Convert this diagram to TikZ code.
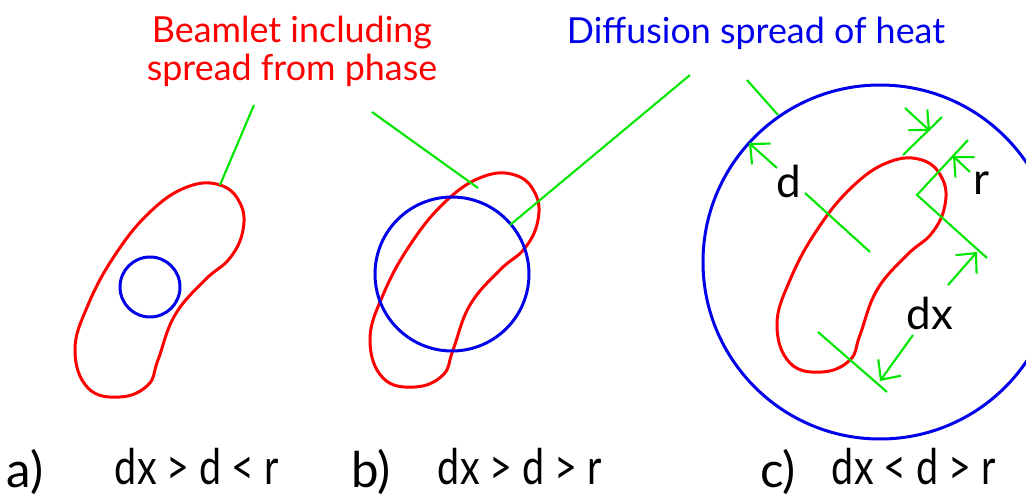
\documentclass[tikz,border=0pt]{standalone}
\usepackage{fontspec}
\setmainfont{Lato}
\usetikzlibrary{arrows.meta}
\definecolor{beamred}{RGB}{255,0,0}
\definecolor{heatblue}{RGB}{0,0,235}
\definecolor{dimgreen}{RGB}{0,230,0}

\begin{document}
\begin{tikzpicture}[
  x=0.01cm, y=-0.01cm,
  every node/.style={inner sep=0pt},
  beam/.style={beamred,line width=0.85pt},
  heat/.style={heatblue,line width=0.85pt},
  callout/.style={dimgreen,line width=0.6pt},
  dimarr/.style={dimgreen,line width=0.6pt,-{Straight Barb[length=1.5mm,width=2.8mm]}},
  title/.style={font=\fontsize{10.2}{10.8}\selectfont,align=center},
  sym/.style={font=\fontsize{12.5}{14}\selectfont,anchor=base},
  case/.style={font=\fontsize{14}{16}\selectfont,anchor=base},
]
\useasboundingbox (0,0) rectangle (1026,500);
\clip (0,0) rectangle (1026,500);

%% Titles
\node[title,beamred] (beamtxt) at (292,51) {Beamlet including\\spread from phase};
\node[title,heatblue] (heattxt) at (756,33) {Diffusion spread of heat};

%% Beamlets, same outline in each panel
\foreach \sx/\sy in {160/290, 455/280, 862/265}
  \draw[beam,shift={(\sx,\sy)}] plot[smooth cycle,tension=0.7] coordinates {
    (27,-103) (60,-105) (80,-87) (83,-60) (70,-32) (45,-10) (15,25)
    (-2,70) (-12,95) (-40,107) (-72,98) (-85,60) (-72,15) (-45,-35) (-10,-78)};

%% Heat spread
\draw[heat] (150,287) circle[radius=30];
\draw[heat] (452,274) circle[radius=77];
\draw[heat] (880,262) circle[radius=177];

%% Callouts
\coordinate (beamtopA) at (220,185);
\coordinate (beamtopB) at (478,188);
\coordinate (heatrimB) at (510,225);
\coordinate (heatrimC) at (778,115);
\draw[callout] (254,105) -- (beamtopA);
\draw[callout] (372,112) -- (beamtopB);
\draw[callout] (690,75) -- (heatrimB);
\draw[callout] (747,80) -- (heatrimC);

%% Panel c dimensions
\coordinate (ctr) at (870,252);
\coordinate (corner) at (917,195);
\draw[callout] (805,193) -- (ctr);
\draw[dimarr] (777,168) -- (749,143);
\node[sym] (dlbl) at (789,197) {d};

\draw[callout] (903,155) -- (942,117);
\draw[callout] (968,140) -- (corner) -- (987,258);
\draw[dimarr] (905,108) -- (930,131);
\draw[dimarr] (970,172) -- (953,156);
\node[sym] (rlbl) at (982,194) {r};

\draw[callout] (818,332) -- (887,392);
\draw[dimarr] (948,285) -- (977,252);
\draw[dimarr] (913,335) -- (880,381);
\node[sym] (dxlbl) at (930,330) {dx};

%% Cases
\node[case] (capA) at (25,488) {a)};
\node[case] (relA) at (197,485) {\scalebox{0.8}[1]{dx > d < r}};
\node[case] (capB) at (371,488) {b)};
\node[case] (relB) at (520,485) {\scalebox{0.8}[1]{dx > d > r}};
\node[case] (capC) at (778,488) {c)};
\node[case] (relC) at (914,485) {\scalebox{0.8}[1]{dx < d > r}};

\end{tikzpicture}
\end{document}
